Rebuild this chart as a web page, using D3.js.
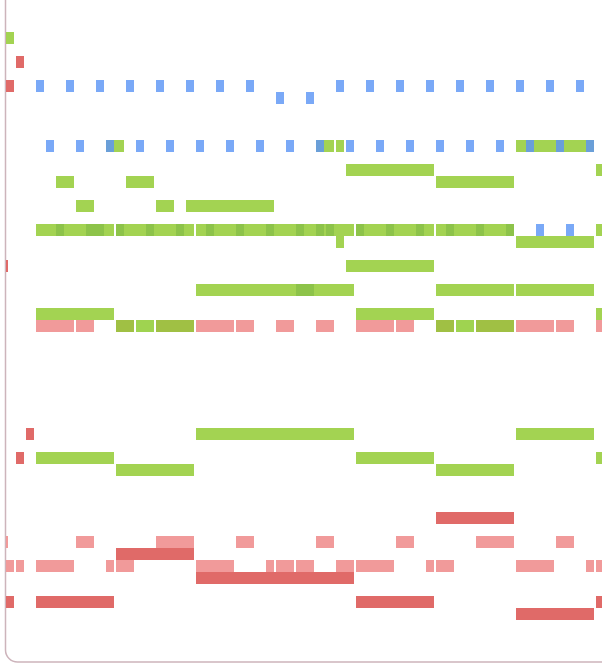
<!DOCTYPE html>
<html><head><meta charset="utf-8">
<script src="https://cdn.jsdelivr.net/npm/d3@7"></script>
<style>body{margin:0;background:#fff}svg{display:block}</style>
</head><body>
<svg id="c" width="602" height="664"></svg>
<script>
// notes: [start step, duration in steps, pitch row]
const green = [[0,1,0],[10,2,9],[31,2,9],[33,1,9],[51,8,9],[5,2,12],[12,3,12],[34,9,11],[59,1,11],[43,8,12],
 [7,2,14],[15,2,14],[18,9,14],[3,8,16],[11,8,16],[19,16,16],[35,8,16],[43,8,16],[59,1,16],[33,1,17],[51,8,17],
 [34,9,19],[19,16,21],[43,8,21],[51,8,21],[3,8,23],[35,8,23],[59,1,23],
 [19,16,33],[51,8,33],[3,8,35],[35,8,35],[59,1,35],[11,8,36],[43,8,36]];
const greenDark = [[5,1,16],[8,2,16],[11,1,16],[14,1,16],[17,1,16],[20,1,16],[23,1,16],[26,1,16],[29,1,16],[31,1,16],[32,1,16],
 [35,1,16],[38,1,16],[41,1,16],[44,1,16],[47,1,16],[50,1,16],[29,2,21]];
const olive = [[11,2,24],[15,4,24],[43,2,24],[47,4,24]];
const oliveLight = [[13,2,24],[45,2,24]];
const blue = [[3,1,4],[6,1,4],[9,1,4],[12,1,4],[15,1,4],[18,1,4],[21,1,4],[24,1,4],[27,1,5],[30,1,5],
 [33,1,4],[36,1,4],[39,1,4],[42,1,4],[45,1,4],[48,1,4],[51,1,4],[54,1,4],[57,1,4],
 [4,1,9],[7,1,9],[13,1,9],[16,1,9],[19,1,9],[22,1,9],[25,1,9],[28,1,9],[34,1,9],[37,1,9],[40,1,9],[43,1,9],[46,1,9],[49,1,9],
 [53,1,16],[56,1,16]];
const blueDark = [[10,1,9],[31,1,9],[52,1,9],[55,1,9],[58,1,9]];
const red = [[1,1,2],[0,1,4],[2,1,33],[1,1,35],[43,8,40],[11,8,43],[19,16,45],[0,1,47],[3,8,47],[35,8,47],[59,1,47],[51,8,48]];
const redThin = [[0,0.2,19]];
const pink = [[3,4,24],[7,2,24],[19,4,24],[23,2,24],[27,2,24],[31,2,24],[35,4,24],[39,2,24],[51,4,24],[55,2,24],[59,1,24],
 [0,0.2,42],[7,2,42],[15,4,42],[23,2,42],[31,2,42],[39,2,42],[47,4,42],[55,2,42],
 [0,1,44],[1,1,44],[3,4,44],[10,1,44],[11,2,44],[19,4,44],[26,1,44],[27,2,44],[29,2,44],[33,2,44],[35,4,44],[42,1,44],[43,2,44],[51,4,44],[58,1,44],[59,1,44]];

const layers = [
 {data:pink,color:"#f19a9a"},{data:red,color:"#e06a68"},{data:redThin,color:"#e06a68"},
 {data:green,color:"#a3d352"},{data:greenDark,color:"#8dc34a"},
 {data:olive,color:"#a0c044"},{data:oliveLight,color:"#9fd350"},
 {data:blue,color:"#7aa9f7"},{data:blueDark,color:"#6a9fd8"}];

const svg = d3.select("#c");
const x = d3.scaleLinear().domain([0,60]).range([6,606]);
const y = d3.scaleLinear().domain([0,53]).range([32,668]);
const gap = 2, h = y(1)-y(0);

svg.append("rect").attr("x",5.5).attr("y",-20).attr("width",640).attr("height",682)
  .attr("rx",12).attr("fill","none").attr("stroke","#cdb4bb").attr("stroke-width",1.5);

layers.forEach(L=>{
  svg.append("g").selectAll("rect").data(L.data).join("rect")
    .attr("x",d=>x(d[0])).attr("y",d=>y(d[2]))
    .attr("width",d=>Math.max(2,x(d[0]+d[1])-x(d[0])-gap))
    .attr("height",h).attr("fill",L.color);
});
</script>
</body></html>
